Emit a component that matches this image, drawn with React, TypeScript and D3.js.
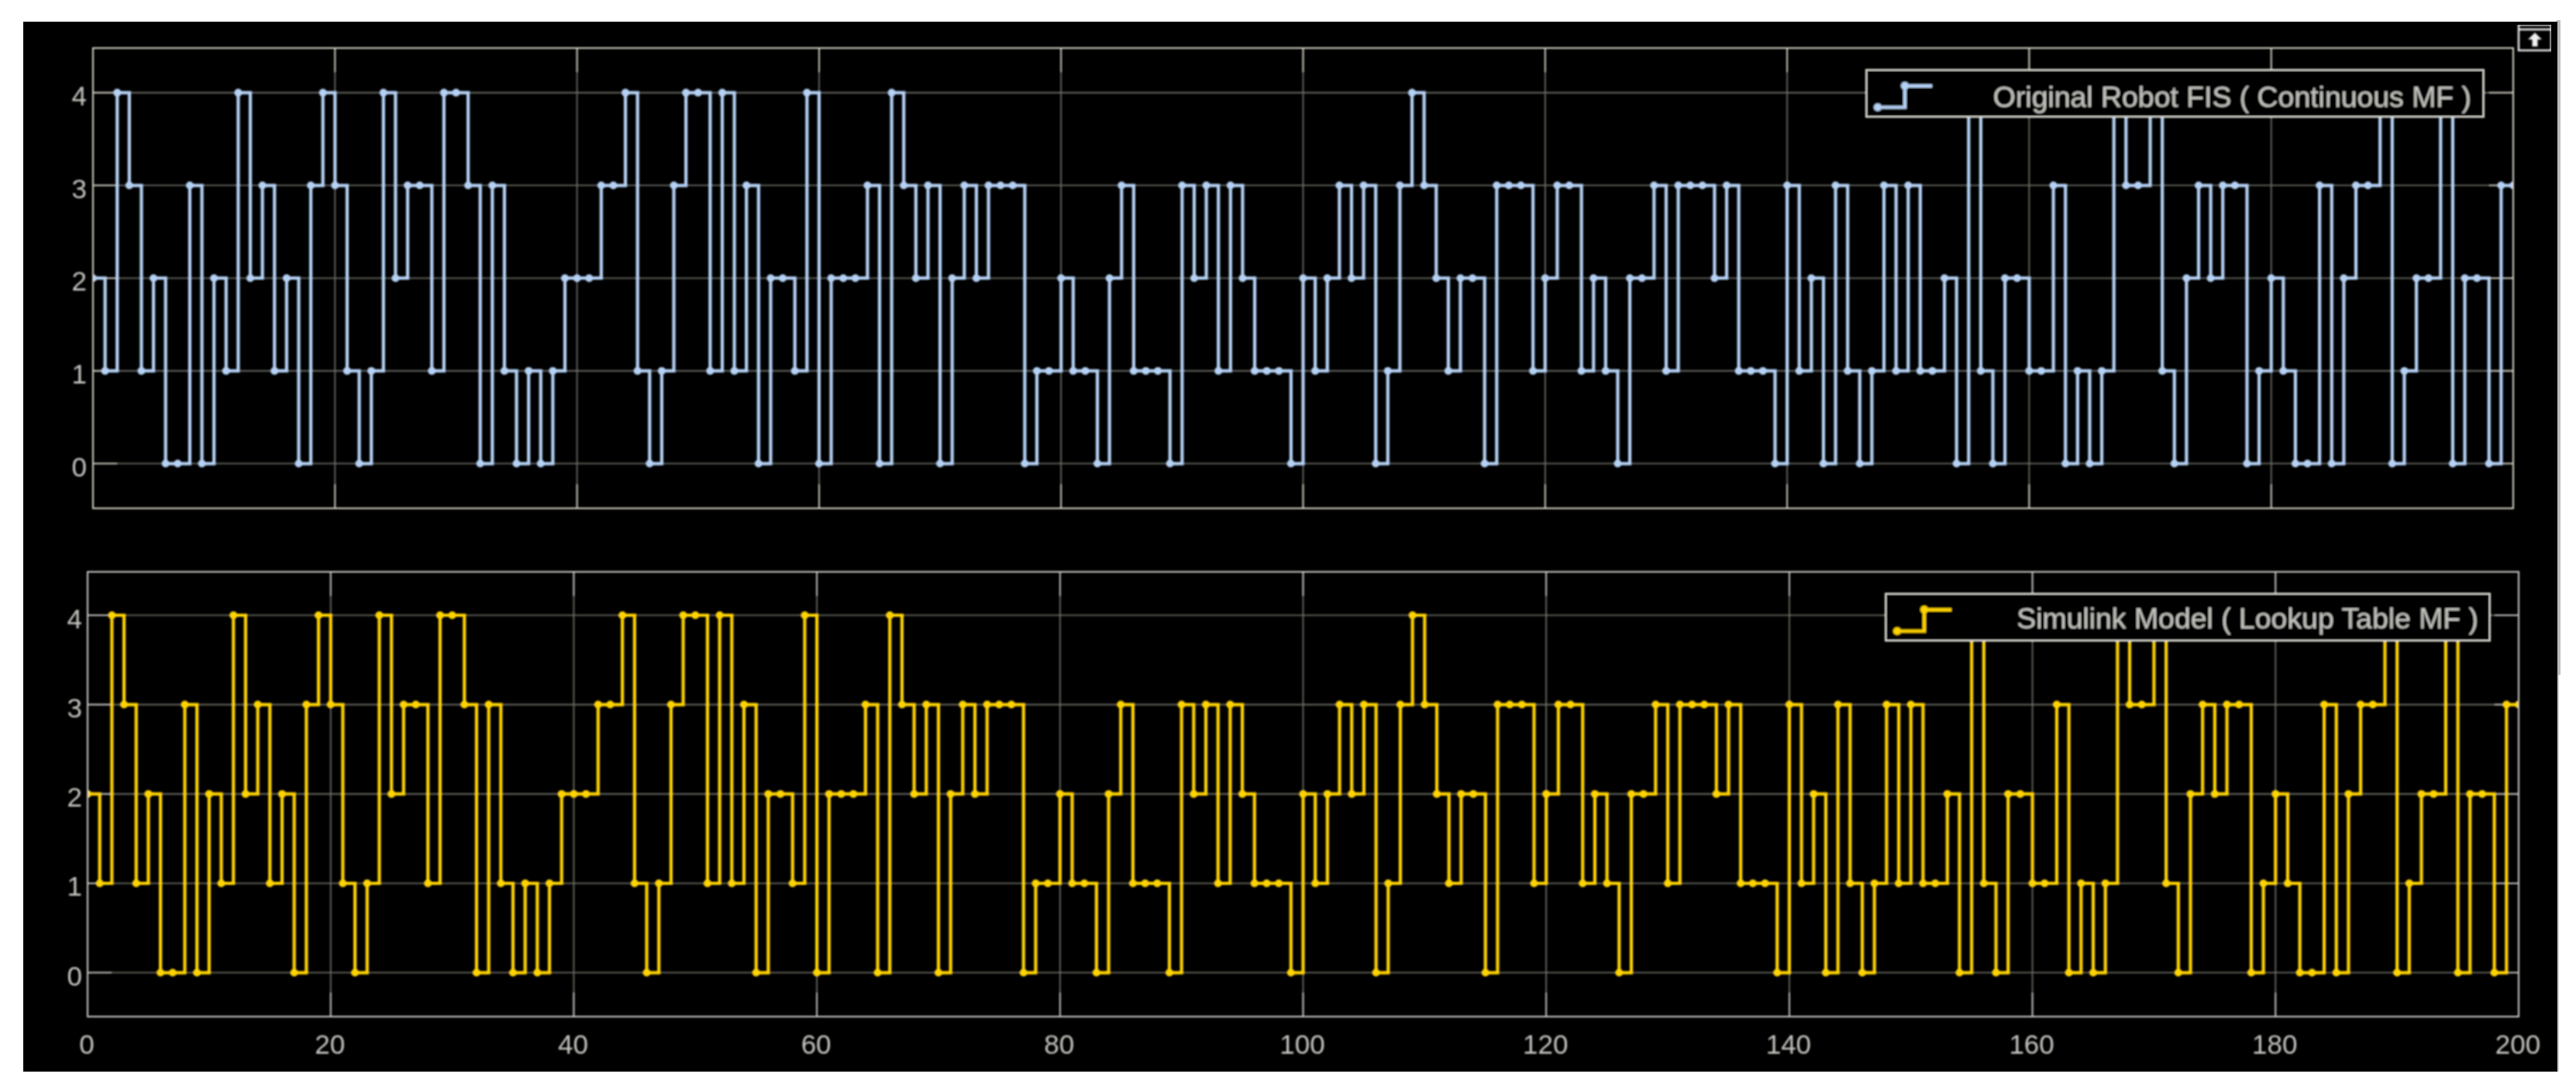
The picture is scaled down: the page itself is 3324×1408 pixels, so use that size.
import React from "react";
import * as d3 from "d3";

const xTickValues = [0, 20, 40, 60, 80, 100, 120, 140, 160, 180, 200];
const yTickValues = [0, 1, 2, 3, 4];

const originalRobotFis = [
  2,1,4,3,1,2,0,0,3,0,2,1,4,2,3,1,2,0,3,4,
  3,1,0,1,4,2,3,3,1,4,4,3,0,3,1,0,1,0,1,2,
  2,2,3,3,4,1,0,1,3,4,4,1,4,1,3,0,2,2,1,4,
  0,2,2,2,3,0,4,3,2,3,0,2,3,2,3,3,3,0,1,1,
  2,1,1,0,2,3,1,1,1,0,3,2,3,1,3,2,1,1,1,0,
  2,1,2,3,2,3,0,1,3,4,3,2,1,2,2,0,3,3,3,1,
  2,3,3,1,2,1,0,2,2,3,1,3,3,3,2,3,1,1,1,0,
  3,1,2,0,3,1,0,1,3,1,3,1,1,2,0,4,1,0,2,2,
  1,1,3,0,1,0,1,4,3,3,4,1,0,2,3,2,3,3,0,1,
  2,1,0,0,3,0,2,3,3,4,0,1,2,2,4,0,2,2,0,3,3,
];
const simulinkModel = [
  2,1,4,3,1,2,0,0,3,0,2,1,4,2,3,1,2,0,3,4,
  3,1,0,1,4,2,3,3,1,4,4,3,0,3,1,0,1,0,1,2,
  2,2,3,3,4,1,0,1,3,4,4,1,4,1,3,0,2,2,1,4,
  0,2,2,2,3,0,4,3,2,3,0,2,3,2,3,3,3,0,1,1,
  2,1,1,0,2,3,1,1,1,0,3,2,3,1,3,2,1,1,1,0,
  2,1,2,3,2,3,0,1,3,4,3,2,1,2,2,0,3,3,3,1,
  2,3,3,1,2,1,0,2,2,3,1,3,3,3,2,3,1,1,1,0,
  3,1,2,0,3,1,0,1,3,1,3,1,1,2,0,4,1,0,2,2,
  1,1,3,0,1,0,1,4,3,3,4,1,0,2,3,2,3,3,0,1,
  2,1,0,0,3,0,2,3,3,4,0,1,2,2,4,0,2,2,0,3,3,
];
const originalLabel = "Original Robot FIS ( Continuous MF )";
const simulinkLabel = "Simulink Model ( Lookup Table MF )";

const FONT = "'Liberation Sans', Arial, sans-serif";
const GRID = "#77776f";
const TEXT = "#c4c4bf";
const LEGEND_STROKE = "#e4e4dc";

type PanelProps = {
  id: string;
  values: number[];
  color: string;
  left: number;
  right: number;
  top: number;
  bottom: number;
  y4: number;
  y0: number;
  box: string;
  labelRight: number;
  showX: boolean;
  legend: { x0: number; x1: number; y0: number; y1: number; label: string; textEnd: number; baseline: number };
};

function Panel({ id, values, color, left, right, top, bottom, y4, y0, box, labelRight, showX, legend }: PanelProps) {
  const x = d3.scaleLinear().domain([0, 200]).range([left, right]);
  const y = d3.scaleLinear().domain([0, 4]).range([y0, y4]);
  const path = d3
    .line<number>()
    .x((_, i) => x(i))
    .y((d) => y(d))
    .curve(d3.curveStepAfter)(values) as string;
  const tickLen = 31;
  const ix0 = legend.x0 + 15;
  const ix1 = legend.x0 + 50;
  const ix2 = legend.x0 + 85;
  const iyLow = legend.y1 - 12.5;
  const iyHigh = legend.y0 + 20.8;
  return (
    <g>
      <clipPath id={id}>
        <rect x={left} y={top} width={right - left} height={bottom - top} />
      </clipPath>
      {xTickValues.map((t) => (
        <line key={"gx" + t} x1={x(t)} x2={x(t)} y1={top} y2={bottom} stroke={GRID} strokeWidth={1.6} />
      ))}
      {yTickValues.map((t) => (
        <line key={"gy" + t} x1={left} x2={right} y1={y(t)} y2={y(t)} stroke={GRID} strokeWidth={1.6} />
      ))}
      {xTickValues.map((t) => (
        <g key={"tx" + t} stroke={box} strokeWidth={1.8}>
          <line x1={x(t)} x2={x(t)} y1={top} y2={top + tickLen} />
          <line x1={x(t)} x2={x(t)} y1={bottom} y2={bottom - tickLen} />
        </g>
      ))}
      {yTickValues.map((t) => (
        <g key={"ty" + t} stroke={box} strokeWidth={1.8}>
          <line x1={left} x2={left + tickLen} y1={y(t)} y2={y(t)} />
          <line x1={right} x2={right - tickLen} y1={y(t)} y2={y(t)} />
        </g>
      ))}
      <g clipPath={`url(#${id})`}>
        <path d={path} fill="none" stroke={color} strokeWidth={4.2} strokeLinejoin="miter" />
        {values.map((d, i) => (
          <circle key={i} cx={x(i)} cy={y(d)} r={5} fill={color} />
        ))}
      </g>
      <rect x={left} y={top} width={right - left} height={bottom - top} fill="none" stroke={box} strokeWidth={2} />
      {yTickValues.map((t) => (
        <text key={"ly" + t} x={labelRight} y={y(t) + 16.5} textAnchor="end" fontFamily={FONT} fontSize={35} fill={TEXT}>
          {t}
        </text>
      ))}
      {showX &&
        xTickValues.map((t) => (
          <text key={"lx" + t} x={x(t) - 1} y={bottom + 48} textAnchor="middle" fontFamily={FONT} fontSize={35} fill={TEXT}>
            {t}
          </text>
        ))}
      <rect x={legend.x0} y={legend.y0} width={legend.x1 - legend.x0} height={legend.y1 - legend.y0} fill="#000" stroke={LEGEND_STROKE} strokeWidth={2} />
      <path d={`M${ix0},${iyLow}H${ix1}V${iyHigh}H${ix2}`} fill="none" stroke={color} strokeWidth={4.2} />
      <circle cx={ix0} cy={iyLow} r={5} fill={color} />
      <circle cx={ix1} cy={iyHigh} r={5} fill={color} />
      <text x={legend.textEnd} y={legend.baseline} textAnchor="end" fontFamily={FONT} fontSize={37.4} fill={TEXT}>
        {legend.label}
      </text>
    </g>
  );
}

export default function App() {
  return (
    <svg width={3324} height={1408} viewBox="0 0 3324 1408" style={{ position: "absolute", left: 0, top: 0, display: "block", background: "#fff" }}>
      <defs>
        <filter id="soft" x="0" y="0" width="100%" height="100%">
          <feGaussianBlur stdDeviation={0.8} />
        </filter>
      </defs>
      <rect x={3299} y={26} width={5} height={845} fill="#bdbdbd" />
      <rect x={3299} y={871} width={3} height={512} fill="#cfcfcf" />
      <rect x={30} y={28} width={3270} height={1355} fill="#000" />
      <g filter="url(#soft)">
        <Panel
          id="clipTop"
          values={originalRobotFis}
          color="#b5d2f5"
          left={120}
          right={3243}
          top={62}
          bottom={656}
          y4={119.6}
          y0={598.3}
          box="#d6d3c6"
          labelRight={112}
          showX={false}
          legend={{ x0: 2408, x1: 3205, y0: 90, y1: 151, label: originalLabel, textEnd: 3189, baseline: 138 }}
        />
        <Panel
          id="clipBottom"
          values={simulinkModel}
          color="#ffd400"
          left={113}
          right={3250}
          top={738}
          bottom={1312}
          y4={794}
          y0={1255.3}
          box="#cbcbc8"
          labelRight={106}
          showX={true}
          legend={{ x0: 2433, x1: 3213, y0: 766, y1: 827, label: simulinkLabel, textEnd: 3198, baseline: 811 }}
        />
        <g stroke="#f0f0f0" fill="none" strokeWidth={2.4}>
          <rect x={3250} y={32} width={42} height={33} />
          <line x1={3250} x2={3292} y1={38} y2={38} />
        </g>
        <path d="M3271,42 L3280,51 L3274.5,51 L3274.5,60 L3267.5,60 L3267.5,51 L3262,51 Z" fill="#f0f0f0" />
      </g>
    </svg>
  );
}
